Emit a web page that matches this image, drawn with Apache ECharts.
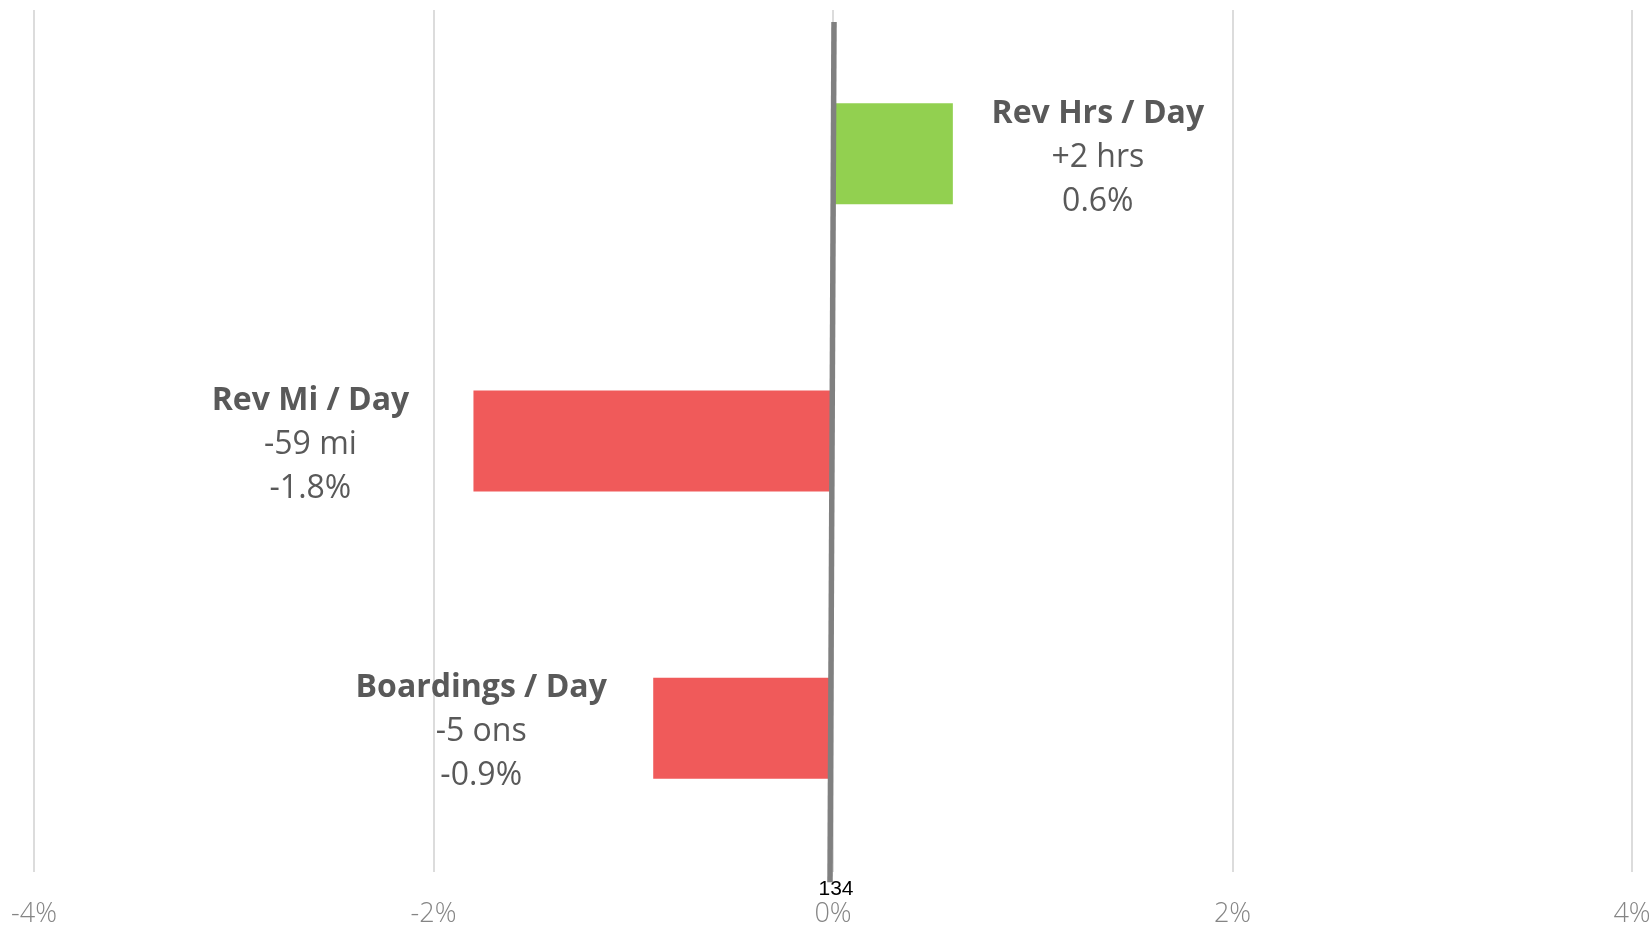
<!DOCTYPE html>
<html>
<head>
<meta charset="utf-8">
<script src="https://cdn.jsdelivr.net/npm/echarts@6/dist/echarts.min.js"></script>
<style>
html,body{margin:0;padding:0;background:#fff;}
#chart{width:1652px;height:925px;}
</style>
</head>
<body>
<div id="chart"></div>
<script>
// Categories, top to bottom
const categories = ['Rev Hrs / Day', 'Rev Mi / Day', 'Boardings / Day'];
// Percent change values
const pctValues = [0.6, -1.8, -0.9];
// Absolute change texts
const changeTexts = ['+2 hrs', '-59 mi', '-5 ons'];
// X axis tick values
const xTicks = [-4, -2, 0, 2, 4];
// Zero reference line (x in %, y in 0..1 of plot height)
const zeroLineX = [0.005, -0.015];
const zeroLineY = [0.986, -0.012];
const zeroLineLabel = '134';

const green = '#92D050';
const red = '#F05A5A';
const textColor = '#595959';

const labelDist = [15, 33, 42];

const chart = echarts.init(document.getElementById('chart'));
const barData = pctValues.map((v, i) => ({
  value: v,
  itemStyle: { color: v >= 0 ? green : red },
  label: {
    position: v >= 0 ? 'right' : 'left',
    distance: labelDist[i]
  }
}));

chart.setOption({
  animation: false,
  backgroundColor: '#fff',
  grid: { left: 34, right: 20, top: 10, bottom: 53, containLabel: false, outerBoundsMode: 'none' },
  xAxis: {
    type: 'value',
    min: xTicks[0],
    max: xTicks[xTicks.length - 1],
    interval: xTicks[1] - xTicks[0],
    axisLine: { show: false },
    axisTick: { show: false },
    axisLabel: {
      formatter: '{value}%',
      color: '#858585',
      fontSize: 27,
      fontFamily: 'Open Sans',
      fontWeight: 300,
      margin: 29
    },
    splitLine: { show: true, lineStyle: { color: '#dcdcdc', width: 2 } }
  },
  yAxis: [
    {
      type: 'category',
      data: categories,
      inverse: true,
      show: false
    },
    {
      type: 'value',
      min: 0,
      max: 1,
      show: false
    }
  ],
  series: [
    {
      type: 'bar',
      data: barData,
      barWidth: 101,
      yAxisIndex: 0,
      label: {
        show: true,
        width: 260,
        offset: [0, 4],
        formatter: function (p) {
          const i = p.dataIndex;
          return '{b|' + categories[i] + '}\n{c|' + changeTexts[i] + '}\n{c|' + pctValues[i].toFixed(1) + '%}';
        },
        rich: {
          b: { fontFamily: 'Open Sans', fontWeight: 'bold', fontSize: 32, lineHeight: 44, color: textColor, align: 'center' },
          c: { fontFamily: 'Open Sans', fontSize: 32, lineHeight: 44, color: textColor, align: 'center' }
        }
      },
      z: 2
    },
    {
      type: 'line',
      xAxisIndex: 0,
      yAxisIndex: 1,
      clip: false,
      data: zeroLineX.map((x, i) => ({
        value: [x, zeroLineY[i]],
        label: i === zeroLineX.length - 1 ? {
          show: true,
          position: 'bottom',
          distance: -4,
          offset: [6, 0],
          formatter: zeroLineLabel,
          color: '#000',
          fontSize: 21,
          fontFamily: 'Liberation Sans'
        } : { show: false }
      })),
      symbol: 'circle',
      symbolSize: 0.1,
      showSymbol: true,
      lineStyle: { color: '#808080', width: 5.5, cap: 'butt' },
      itemStyle: { color: '#808080' },
      z: 3
    }
  ]
});
</script>
</body>
</html>
